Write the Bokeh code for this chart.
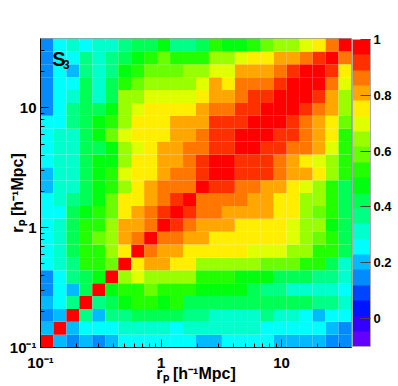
import numpy as np
from bokeh.plotting import figure
from bokeh.models import ColumnDataSource, LinearColorMapper, ColorBar, FixedTicker, Label
from bokeh.transform import transform
from bokeh.embed import file_html
from bokeh.resources import INLINE

# ---- data -------------------------------------------------------------
r_min = 0.1
r_max = 38.0
n_bins = 24
x_tick_values = [0.1, 1, 10]
x_tick_labels = ["10⁻¹", "1", "10"]
minor_tick_values = [0.2, 0.3, 0.4, 0.5, 0.6, 0.7, 0.8, 0.9,
                     2, 3, 4, 5, 6, 7, 8, 9, 20, 30]
z_tick_values = [0, 0.2, 0.4, 0.6, 0.8, 1.0]
z_tick_labels = ["0", "0.2", "0.4", "0.6", "0.8", "1"]
z_low, z_high = -0.1, 1.0

# correlation matrix, row j = y bin j (bottom to top), column i = x bin i
corr = [
    [1.00,.20,.15,.20,.15,.20,.26,.26,.26,.26,.26,.26,.20,.20,.26,.26,.26,.26,.20,.20,.20,.20,.15,.15],
    [.20,1.00,.20,.26,.26,.26,.31,.31,.31,.31,.26,.31,.31,.31,.31,.31,.31,.26,.26,.26,.26,.26,.20,.15],
    [.15,.20,1.00,.37,.20,.37,.37,.42,.42,.42,.42,.37,.37,.31,.31,.31,.31,.37,.31,.31,.26,.20,.26,.26],
    [.20,.26,.37,1.00,.37,.42,.48,.53,.53,.48,.53,.42,.42,.42,.42,.42,.42,.42,.42,.42,.42,.37,.37,.31],
    [.15,.26,.20,.42,1.00,.48,.53,.53,.59,.53,.53,.53,.48,.48,.48,.48,.42,.37,.37,.31,.31,.31,.31,.26],
    [.15,.26,.37,.42,.48,1.00,.64,.70,.64,.64,.64,.64,.53,.53,.53,.48,.48,.48,.42,.42,.42,.37,.37,.31],
    [.26,.31,.37,.53,.53,.59,1.00,.75,.81,.81,.75,.75,.64,.64,.64,.64,.64,.59,.59,.59,.53,.53,.42,.31],
    [.26,.31,.42,.53,.53,.64,.75,1.00,.86,.81,.81,.75,.75,.75,.75,.75,.70,.70,.70,.64,.64,.53,.53,.42],
    [.26,.31,.42,.53,.59,.64,.81,.86,1.00,.86,.86,.81,.81,.75,.75,.75,.75,.75,.75,.70,.64,.59,.53,.42],
    [.26,.31,.42,.53,.53,.64,.81,.81,.86,1.00,.92,.86,.81,.81,.81,.75,.75,.75,.75,.70,.64,.64,.48,.42],
    [.26,.26,.42,.48,.53,.59,.75,.81,.86,.92,1.00,.92,.86,.86,.81,.81,.81,.81,.75,.75,.64,.59,.53,.42],
    [.26,.31,.37,.42,.48,.59,.75,.75,.81,.86,.92,1.00,.86,.86,.86,.86,.81,.81,.75,.75,.64,.64,.53,.42],
    [.20,.31,.31,.42,.48,.53,.64,.75,.81,.86,.86,.86,1.00,.92,.92,.86,.86,.81,.81,.75,.70,.64,.53,.42],
    [.20,.31,.31,.42,.48,.53,.70,.75,.75,.81,.86,.86,.92,1.00,.96,.92,.92,.92,.86,.81,.81,.75,.64,.53],
    [.26,.31,.31,.42,.48,.48,.64,.75,.75,.81,.81,.86,.92,.96,1.00,.92,.92,.92,.86,.81,.75,.70,.64,.53],
    [.26,.31,.31,.42,.42,.48,.64,.70,.75,.81,.81,.86,.86,.92,.92,1.00,.96,.92,.92,.86,.86,.81,.70,.53],
    [.26,.31,.31,.42,.48,.59,.70,.75,.75,.75,.81,.81,.86,.92,.92,.96,1.00,.96,.92,.92,.86,.81,.75,.53],
    [.26,.26,.37,.42,.48,.53,.64,.75,.75,.75,.81,.81,.81,.92,.92,.92,.96,1.00,.96,.92,.86,.81,.75,.59],
    [.15,.26,.37,.42,.42,.48,.64,.70,.75,.75,.75,.75,.81,.86,.86,.92,.92,.96,1.00,.96,.92,.86,.81,.64],
    [.15,.26,.31,.42,.31,.42,.64,.64,.70,.70,.70,.70,.75,.81,.81,.86,.92,.92,.96,1.00,.96,.92,.81,.64],
    [.15,.26,.26,.42,.31,.42,.53,.59,.64,.64,.64,.64,.70,.81,.75,.86,.86,.86,.92,.96,1.00,.96,.86,.70],
    [.15,.26,.20,.37,.31,.37,.48,.53,.59,.59,.59,.64,.64,.70,.70,.81,.81,.81,.86,.92,.96,1.00,.92,.75],
    [.15,.26,.26,.37,.31,.37,.42,.48,.53,.59,.53,.53,.53,.64,.64,.70,.75,.75,.81,.81,.86,.92,1.00,.86],
    [.15,.26,.31,.26,.31,.31,.37,.42,.42,.48,.37,.37,.42,.53,.48,.48,.53,.59,.64,.64,.70,.75,.86,1.00],
]

# ROOT-like rainbow palette, 20 contour levels
palette = ["#6300ff", "#3300ff", "#0014ff", "#0044ff", "#008bff",
           "#00bbff", "#00fffc", "#00ffcc", "#00ff85", "#00ff55",
           "#00ff0e", "#22ff00", "#69ff00", "#99ff00", "#e0ff00",
           "#ffee00", "#ffa700", "#ff7700", "#ff3000", "#ff0000"]

# ---- build cells ------------------------------------------------------
edges = np.logspace(np.log10(r_min), np.log10(r_max), n_bins + 1)
left, right, bottom, top, vals = [], [], [], [], []
for j, row in enumerate(corr):
    for i, v in enumerate(row):
        left.append(edges[i]); right.append(edges[i + 1])
        bottom.append(edges[j]); top.append(edges[j + 1])
        vals.append(v)
src = ColumnDataSource(dict(left=left, right=right, bottom=bottom, top=top, v=vals))

mapper = LinearColorMapper(palette=palette, low=z_low, high=z_high)

FONT = "Liberation Sans"

p = figure(x_axis_type="log", y_axis_type="log",
           x_range=(r_min, r_max), y_range=(r_min, r_max),
           frame_width=311, frame_height=309,
           min_border_left=40, min_border_top=38, min_border_bottom=30,
           min_border_right=0,
           output_backend="svg", toolbar_location=None)
p.background_fill_color = "white"
p.border_fill_color = "white"
p.grid.visible = False
p.outline_line_color = "#999999"

p.quad(left="left", right="right", bottom="bottom", top="top", source=src,
       fill_color=transform("v", mapper), line_color=None)

overrides = {}
for tv, tl in zip(x_tick_values, x_tick_labels):
    overrides[tv] = tl
    overrides[str(tv)] = tl

for ax in (p.xaxis[0], p.yaxis[0]):
    ax.ticker = FixedTicker(ticks=x_tick_values, minor_ticks=minor_tick_values)
    ax.major_label_overrides = overrides
    ax.major_tick_in = 8
    ax.major_tick_out = 0
    ax.minor_tick_in = 4
    ax.minor_tick_out = 0
    ax.axis_line_color = "black"
    ax.major_tick_line_color = "black"
    ax.minor_tick_line_color = "black"
    ax.major_label_text_font = FONT
    ax.major_label_text_font_style = "bold"
    ax.major_label_text_font_size = "15px"
    ax.major_label_text_color = "black"
    ax.axis_label = "rₚ [h⁻¹Mpc]"
    ax.axis_label_text_font = FONT
    ax.axis_label_text_font_style = "bold"
    ax.axis_label_text_font_size = "16px"
    ax.axis_label_text_color = "black"

p.xaxis[0].major_label_standoff = 6
p.xaxis[0].axis_label_standoff = -9
p.yaxis[0].major_label_standoff = 4
p.yaxis[0].axis_label_standoff = -19

z_over = {}
for tv, tl in zip(z_tick_values, z_tick_labels):
    z_over[tv] = tl
    z_over[str(tv)] = tl

cb = ColorBar(color_mapper=mapper, ticker=FixedTicker(ticks=z_tick_values),
              major_label_overrides=z_over, width=18, padding=1, margin=0,
              label_standoff=3, major_tick_in=10, major_tick_out=0,
              major_tick_line_color="#444444", minor_tick_line_color=None,
              major_label_text_font=FONT, major_label_text_font_style="bold",
              major_label_text_font_size="13px", major_label_text_color="black",
              bar_line_color="#aaaaaa", border_line_color=None,
              background_fill_color=None)
p.add_layout(cb, "right")

p.add_layout(Label(x=0.125, y=25.5, text="S", text_font=FONT, text_font_style="bold",
                   text_font_size="20px", text_color="black", text_baseline="alphabetic"))
p.add_layout(Label(x=0.154, y=23.1, text="3", text_font=FONT, text_font_style="bold",
                   text_font_size="12px", text_color="black", text_baseline="alphabetic"))

open("out.html", "w").write(file_html(p, INLINE))
